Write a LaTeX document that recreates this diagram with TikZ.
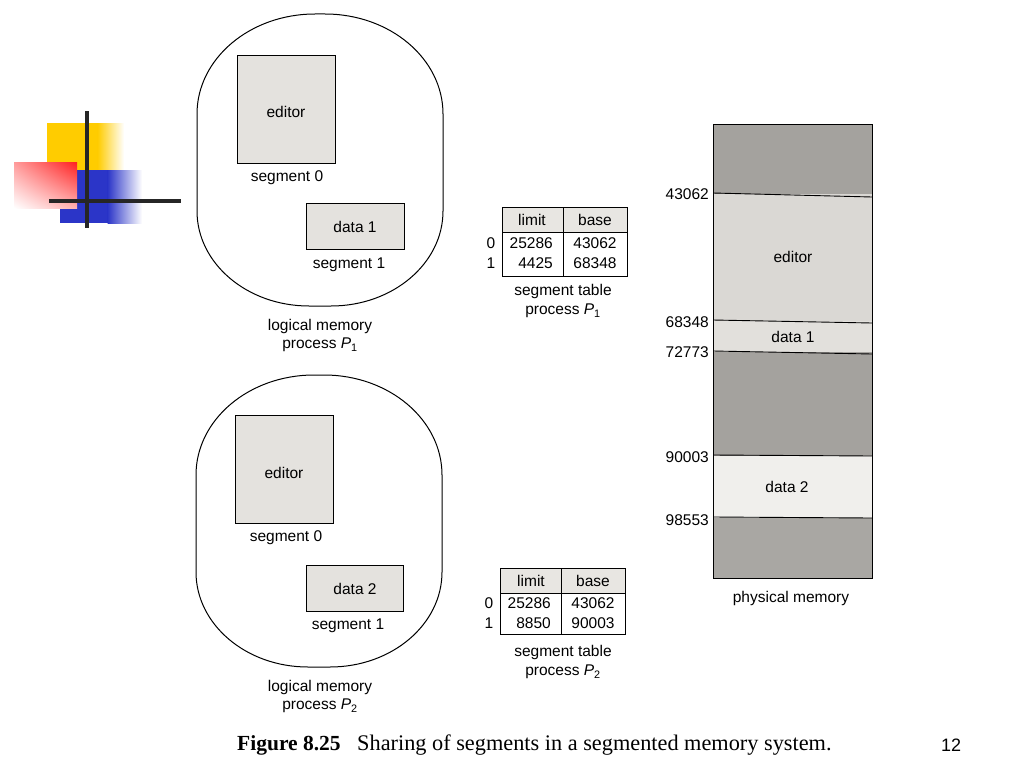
\documentclass[tikz,border=0pt]{standalone}
\usepackage{fontspec}
\setmainfont{Liberation Sans}
\newfontfamily\capfont{Liberation Serif}
\usetikzlibrary{shadings}
\definecolor{lyellow}{HTML}{FFCC00}
\definecolor{lblue}{HTML}{2B35C8}
\definecolor{lred}{HTML}{FF2020}
\definecolor{boxgray}{HTML}{E4E2DE}
\definecolor{hdrgray}{HTML}{E8E6E2}
\definecolor{darkmem}{HTML}{A4A29E}
\definecolor{editmem}{HTML}{DAD8D4}
\definecolor{datamem}{HTML}{E2E0DC}
\definecolor{data2mem}{HTML}{F0EFEC}
\begin{document}
\begin{tikzpicture}[x=1pt,y=-1pt,
  lbl/.style={font=\fontsize{15.5}{17}\selectfont, inner sep=0pt},
  segbox/.style={draw, line width=0.9pt, fill=boxgray},
  outline/.style={draw, line width=1pt},
  tbl/.style={draw, line width=0.8pt},
  memline/.style={draw, line width=0.9pt}]
\useasboundingbox[fill=white] (0,0) rectangle (1024,768);

% ---------- logo ----------
\fill[lyellow] (47,123) rectangle (98,195);
\shade[left color=lyellow, right color=white] (97.5,123) rectangle (124,195);
\fill[lblue] (60,170) rectangle (108,223);
\shade[left color=lblue, right color=white] (107.5,170) rectangle (142,223);
\shade[upper right=lred, upper left=lred!45, lower right=lred!35, lower left=white] (14,162) rectangle (77,208);
\draw[line width=4pt, black!85] (87,111) -- (87,228);
\draw[line width=4pt, black!85] (49,201) -- (181,201);

% ---------- logical memory P1 ----------
\path[outline] (197,114) arc[start angle=180, end angle=270, x radius=118, y radius=100]
  -- (325,14) arc[start angle=270, end angle=360, x radius=118, y radius=100]
  -- (443,211) arc[start angle=0, end angle=90, x radius=112, y radius=95]
  -- (309,306) arc[start angle=90, end angle=180, x radius=112, y radius=95] -- cycle;
\node[segbox, minimum width=98pt, minimum height=108pt, anchor=north west] (ed1) at (237,55) {};
\node[lbl] (ed1t) at (286,112) {editor};
\node[lbl] (s01) at (287,178) {segment 0};
\node[segbox, minimum width=98pt, minimum height=46pt, anchor=north west] (d1) at (306,203) {};
\node[lbl] (d1t) at (355,227) {data 1};
\node[lbl] (s11) at (349,265) {segment 1};
\node[lbl] (lm1) at (320,326) {logical memory};
\node[lbl] (pp1) at (320,345) {process \textit{P}\textsubscript{1}};

% ---------- logical memory P2 ----------
\path[outline] (196,475) arc[start angle=180, end angle=270, x radius=118, y radius=100]
  -- (324,375) arc[start angle=270, end angle=360, x radius=118, y radius=100]
  -- (442,572) arc[start angle=0, end angle=90, x radius=112, y radius=95]
  -- (308,667) arc[start angle=90, end angle=180, x radius=112, y radius=95] -- cycle;
\node[segbox, minimum width=98pt, minimum height=108pt, anchor=north west] (ed2) at (235,415) {};
\node[lbl] (ed2t) at (284,473) {editor};
\node[lbl] (s02) at (286,538) {segment 0};
\node[segbox, minimum width=97pt, minimum height=46pt, anchor=north west] (d2) at (306,565) {};
\node[lbl] (d2t) at (355,589) {data 2};
\node[lbl] (s12) at (348,626) {segment 1};
\node[lbl] (lm2) at (320,687) {logical memory};
\node[lbl] (pp2) at (320,706) {process \textit{P}\textsubscript{2}};

% ---------- segment table P1 ----------
\fill[hdrgray] (502,207) rectangle (627,232);
\draw[tbl] (502,207) rectangle (627,276);
\draw[tbl] (502,232) -- (627,232);
\draw[tbl] (563,207) -- (563,276);
\node[lbl] (t1h1) at (532,220) {limit};
\node[lbl] (t1h2) at (595,220) {base};
\node[lbl] (t1i0) at (491,243) {0};
\node[lbl] (t1i1) at (491,263) {1};
\node[lbl, anchor=east] (t1a) at (553,243) {25286};
\node[lbl, anchor=east] (t1b) at (553,263) {4425};
\node[lbl] (t1c) at (595,243) {43062};
\node[lbl] (t1d) at (595,263) {68348};
\node[lbl] (st1) at (563,291) {segment table};
\node[lbl] (sp1) at (563,311) {process \textit{P}\textsubscript{1}};

% ---------- segment table P2 ----------
\fill[hdrgray] (500,568) rectangle (625,593);
\draw[tbl] (500,568) rectangle (625,634);
\draw[tbl] (500,593) -- (625,593);
\draw[tbl] (561,568) -- (561,634);
\node[lbl] (t2h1) at (531,581) {limit};
\node[lbl] (t2h2) at (593,581) {base};
\node[lbl] (t2i0) at (489,603) {0};
\node[lbl] (t2i1) at (489,623) {1};
\node[lbl, anchor=east] (t2a) at (551,603) {25286};
\node[lbl, anchor=east] (t2b) at (551,623) {8850};
\node[lbl] (t2c) at (593,603) {43062};
\node[lbl] (t2d) at (593,623) {90003};
\node[lbl] (st2) at (563,652) {segment table};
\node[lbl] (sp2) at (563,672) {process \textit{P}\textsubscript{2}};

% ---------- physical memory ----------
\fill[darkmem] (713,124) rectangle (872,194);
\fill[editmem] (713,194) rectangle (872,321);
\fill[datamem] (713,321) rectangle (872,352);
\fill[darkmem] (713,352) rectangle (872,456);
\fill[data2mem] (713,456) rectangle (872,518);
\fill[darkmem!95] (713,518) rectangle (872,578);
\draw[memline] (713,124) rectangle (872,578);
\draw[memline] (713,193) -- (872,197);
\draw[memline] (713,320) -- (872,323);
\draw[memline] (713,351) -- (872,354);
\draw[memline] (713,455) -- (872,456);
\draw[memline] (713,517) -- (872,518);
\node[lbl, anchor=east] (a1) at (709,194) {43062};
\node[lbl, anchor=east] (a2) at (709,322) {68348};
\node[lbl, anchor=east] (a3) at (709,352) {72773};
\node[lbl, anchor=east] (a4) at (709,457) {90003};
\node[lbl, anchor=east] (a5) at (709,520) {98553};
\node[lbl] (pe) at (793,257) {editor};
\node[lbl] (pd1) at (793,337) {data 1};
\node[lbl] (pd2) at (787,487) {data 2};
\node[lbl] (pm) at (791,598) {physical memory};

% ---------- caption ----------
\node[anchor=base west, inner sep=0pt, font=\capfont\fontsize{21.5}{23}\selectfont\bfseries] (fig) at (237,750) {Figure 8.25};
\node[anchor=base west, inner sep=0pt, font=\capfont\fontsize{22.3}{24}\selectfont] (cap) at (357,750) {Sharing of segments in a segmented memory system.};
\node[anchor=base, inner sep=0pt, font=\fontsize{18}{20}\selectfont] (pg) at (951,751) {12};
\end{tikzpicture}
\end{document}
